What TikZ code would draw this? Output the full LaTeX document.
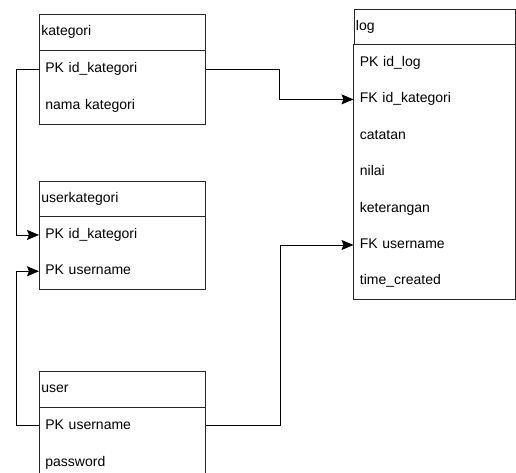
\documentclass[tikz,border=0pt]{standalone}
\usepackage{fontspec}
\setmainfont{Liberation Sans}
\usetikzlibrary{arrows.meta, positioning}

\begin{document}
\begin{tikzpicture}[x=1pt, y=-1pt, line width=0.8pt, draw=black!85,
    font=\fontsize{14}{16}\selectfont,
    hdr/.style={draw, anchor=north west, inner xsep=2pt, inner ysep=0pt, text width=162pt,
        minimum height=36pt, align=left, text height=10pt, text depth=3pt},
    fld/.style={inner xsep=6pt, inner ysep=0pt, text width=154pt,
        minimum height=36pt, align=left, text height=10pt, text depth=3pt},
    relarrow/.style={draw=black, arrows={-Stealth[length=12pt, width=10pt, inset=2pt]}}]
    \clip (0,0) rectangle (516,473);

    % kategori
    \node[hdr] (kat) at (39,14) {kategori};
    \node[fld, below=0pt of kat] (katid) {PK id\_kategori};
    \node[fld, below=0pt of katid] (katnama) {nama kategori};
    \draw (kat.south west) rectangle (katnama.south east);

    % userkategori
    \node[hdr, minimum height=35.5pt] (uk) at (39,180.5) {userkategori};
    \node[fld, minimum height=35.5pt, below=0pt of uk] (ukid) {PK id\_kategori};
    \node[fld, minimum height=35.5pt, below=0pt of ukid] (ukuser) {PK username};
    \draw (uk.south west) rectangle (ukuser.south east);

    % user
    \node[hdr, minimum height=35.5pt] (usr) at (39,371) {user};
    \node[fld, below=0pt of usr] (usrname) {PK username};
    \node[fld, below=0pt of usrname] (usrpass) {password};
    \draw (usr.south west) rectangle (usrpass.south east);

    % log
    \node[hdr, text width=157.5pt, minimum height=35pt] (log) at (353.5,9) {log};
    \node[fld, text width=149.5pt, minimum height=35.6pt, below=0pt of log] (logid) {PK id\_log};
    \node[fld, text width=149.5pt, minimum height=35.6pt, below=0pt of logid] (logkat) {FK id\_kategori};
    \node[fld, text width=149.5pt, minimum height=35.6pt, below=0pt of logkat] (logcat) {catatan};
    \node[fld, text width=149.5pt, minimum height=35.6pt, below=0pt of logcat] (lognilai) {nilai};
    \node[fld, text width=149.5pt, minimum height=35.6pt, below=0pt of lognilai] (logket) {keterangan};
    \node[fld, text width=149.5pt, minimum height=35.6pt, below=0pt of logket] (loguser) {FK username};
    \node[fld, text width=149.5pt, minimum height=35.6pt, below=0pt of loguser] (logtime) {time\_created};
    \draw (log.south west) rectangle (logtime.south east);

    % relations
    \draw[relarrow] (katid.east) -- ++(74,0) |- (logkat.west);
    \draw[relarrow] (katid.west) -- ++(-23,0) |- (ukid.west);
    \draw[relarrow] (usrname.west) -- ++(-23,0) |- (ukuser.west);
    \draw[relarrow] (usrname.east) -- ++(75,0) |- (loguser.west);
\end{tikzpicture}
\end{document}
